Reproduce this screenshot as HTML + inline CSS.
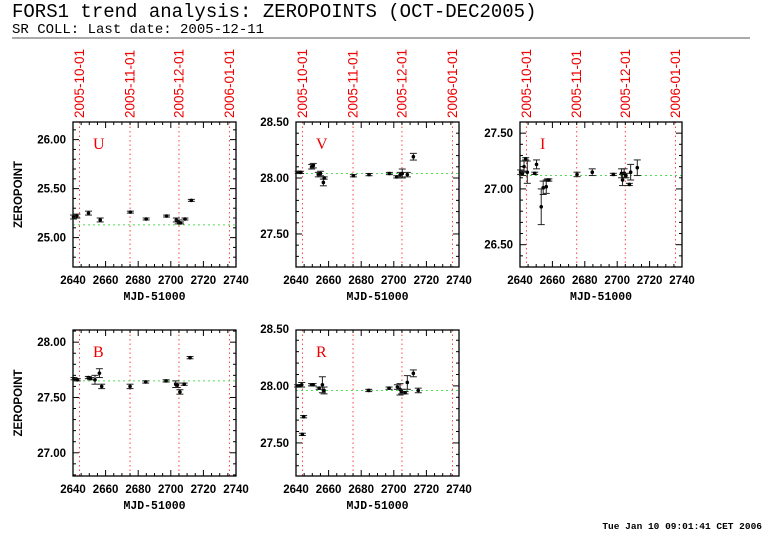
<!DOCTYPE html>
<html><head><meta charset="utf-8"><style>
body{margin:0;background:#fff;width:782px;height:542px;overflow:hidden}
</style></head><body>
<svg id="c" width="782" height="542" xmlns="http://www.w3.org/2000/svg">
<text x="12" y="17" font-family="Liberation Mono, monospace" font-size="19" fill="#000">FORS1 trend analysis: ZEROPOINTS (OCT-DEC2005)</text>
<text x="12" y="33" font-family="Liberation Mono, monospace" font-size="14" fill="#000">SR COLL: Last date: 2005-12-11</text>
<rect x="12" y="37" width="738" height="2" fill="#aaa"/>
<text x="762" y="529" text-anchor="end" font-family="Liberation Mono, monospace" font-size="9.5" font-weight="bold">Tue Jan 10 09:01:41 CET 2006</text>
</svg>
<script>
const dateLabels=["2005-10-01","2005-11-01","2005-12-01","2006-01-01"];
const dateMjd=[2644,2675,2705,2736];
const xTicks=[2640,2660,2680,2700,2720,2740];
const uMjd=[2640.3,2642.4,2649.5,2656.7,2675.2,2684.9,2697.4,2703.4,2704.6,2706,2708.7,2712.6];
const uZp=[25.21,25.22,25.25,25.18,25.26,25.19,25.22,25.18,25.16,25.15,25.19,25.38];
const uErr=[0.02,0.02,0.02,0.02,0.01,0.01,0.01,0.02,0.02,0.01,0.01,0.01];
const vMjd=[2641.4,2642.8,2649.6,2650.6,2653.7,2655,2656.8,2657.3,2675.2,2684.8,2697.3,2701.8,2703.9,2705.2,2708.3,2712];
const vZp=[28.05,28.05,28.10,28.11,28.03,28.04,27.96,28.0,28.02,28.03,28.04,28.01,28.03,28.04,28.03,28.19];
const vErr=[0.01,0.01,0.02,0.02,0.02,0.02,0.03,0.01,0.01,0.01,0.01,0.01,0.02,0.04,0.02,0.03];
const iMjd=[2640.4,2641.5,2642.5,2643.5,2644.5,2649.1,2650.2,2653.1,2654.3,2656.2,2657,2657.8,2675.2,2684.6,2697.6,2702.7,2703.3,2704.3,2705.4,2707.5,2708.3,2712.4];
const iZp=[27.15,27.14,27.20,27.27,27.15,27.14,27.22,26.84,27.01,27.02,27.08,27.08,27.13,27.15,27.13,27.14,27.08,27.14,27.12,27.04,27.15,27.19];
const iErr=[0.02,0.02,0.05,0.01,0.10,0.01,0.04,0.16,0.06,0.06,0.01,0.01,0.02,0.03,0.01,0.04,0.05,0.04,0.02,0.01,0.07,0.07];
const bMjd=[2640.6,2642.6,2649.4,2650.8,2653.5,2656.2,2657.6,2675,2684.6,2697.1,2703,2704,2705.6,2708.2,2711.8];
const bZp=[27.67,27.66,27.68,27.67,27.66,27.72,27.60,27.60,27.64,27.65,27.62,27.61,27.55,27.62,27.86];
const bErr=[0.01,0.01,0.01,0.01,0.04,0.04,0.02,0.02,0.01,0.01,0.03,0.02,0.02,0.01,0.01];
const rMjd=[2641,2642.4,2643.5,2643.9,2644.7,2649.5,2650.5,2654.2,2656.2,2657.2,2684.6,2697.1,2702.2,2703.8,2704.8,2706.9,2708.3,2712,2715];
const rZp=[28.00,28.00,28.01,27.575,27.73,28.01,28.01,27.98,28.01,27.96,27.96,27.98,27.99,27.97,27.95,27.94,28.03,28.11,27.96];
const rErr=[0.01,0.01,0.02,0.01,0.01,0.01,0.01,0.01,0.07,0.03,0.01,0.01,0.02,0.05,0.02,0.01,0.06,0.03,0.02];
const panels=[
 {n:"U",x0:73,x1:236,y0:122,y1:267,ymin:24.70,ymax:26.18,yt:[25.00,25.50,26.00],med:25.13,m:uMjd,z:uZp,e:uErr,left:true,dates:true},
 {n:"V",x0:296,x1:459,y0:122,y1:267,ymin:27.205,ymax:28.50,yt:[27.50,28.00,28.50],med:28.04,m:vMjd,z:vZp,e:vErr,left:false,dates:true},
 {n:"I",x0:520,x1:682,y0:122,y1:267,ymin:26.30,ymax:27.60,yt:[26.50,27.00,27.50],med:27.12,m:iMjd,z:iZp,e:iErr,left:false,dates:true},
 {n:"B",x0:73,x1:236,y0:330,y1:476,ymin:26.79,ymax:28.11,yt:[27.00,27.50,28.00],med:27.65,m:bMjd,z:bZp,e:bErr,left:true,dates:false},
 {n:"R",x0:296,x1:459,y0:330,y1:476,ymin:27.21,ymax:28.49,yt:[27.50,28.00,28.50],med:27.96,m:rMjd,z:rZp,e:rErr,left:false,dates:false}
];
const svg=document.getElementById('c');
const NS="http://www.w3.org/2000/svg";
function mk(t,a,p){const e=document.createElementNS(NS,t);for(const k in a)e.setAttribute(k,a[k]);(p||svg).appendChild(e);return e;}
panels.forEach(P=>{
 const g=mk('g',{});
 
 
 const X=v=>P.x0+(v-2640)/100*(P.x1-P.x0);
 const Y=v=>P.y1-(v-P.ymin)/(P.ymax-P.ymin)*(P.y1-P.y0);
 dateMjd.forEach((d,i)=>{
  const l=mk('line',{x1:X(d),x2:X(d),y1:P.y0,y2:P.y1,stroke:'#f44',"stroke-width":1,"stroke-dasharray":'1.5,3'},g);
  
  
  if(P.dates){
   const t=mk('text',{transform:`translate(${X(d)+4.5},${P.y0-4}) rotate(-90)`,"font-family":"Liberation Sans, sans-serif","font-size":13.5,fill:'#e00'},g);
   t.textContent=dateLabels[i];
   
   
  }
 });
 const ml=mk('line',{x1:P.x0,x2:P.x1,y1:Y(P.med),y2:Y(P.med),stroke:'#5d5',"stroke-width":1,"stroke-dasharray":'2,3'},g);
 
 
 for(let v=2640;v<=2740;v+=5){const L=v%20==0?6:3;
  mk('line',{x1:X(v),x2:X(v),y1:P.y1,y2:P.y1-L,stroke:'#000'},g);
  mk('line',{x1:X(v),x2:X(v),y1:P.y0,y2:P.y0+L,stroke:'#000'},g);}
 for(let k=Math.ceil(P.ymin*10);k<=Math.floor(P.ymax*10);k++){const v=k/10;const L=k%5==0?6:3;
  mk('line',{x1:P.x0,x2:P.x0+L,y1:Y(v),y2:Y(v),stroke:'#000'},g);
  mk('line',{x1:P.x1,x2:P.x1-L,y1:Y(v),y2:Y(v),stroke:'#000'},g);}
 const box=mk('rect',{x:P.x0,y:P.y0,width:P.x1-P.x0,height:P.y1-P.y0,fill:'none',stroke:'#000',"stroke-width":1.3},g);
 
 
 xTicks.forEach(v=>{const t=mk('text',{x:X(v),y:P.y1+17,"text-anchor":"middle","font-family":"Liberation Sans, sans-serif","font-size":11.5,"font-weight":"bold"},g);t.textContent=v;
  
  });
 P.yt.forEach(v=>{const t=mk('text',{x:P.x0-7,y:Y(v)+4,"text-anchor":"end","font-family":"Liberation Sans, sans-serif","font-size":11.5,"font-weight":"bold"},g);t.textContent=v.toFixed(2);
  
  });
 const xt=mk('text',{x:(P.x0+P.x1)/2,y:P.y1+33,"text-anchor":"middle","font-family":"Liberation Mono, monospace","font-size":11.5,"font-weight":"bold"},g);
 xt.textContent="MJD-51000";
 
 
 if(P.left){const yt=mk('text',{transform:`translate(22,${(P.y0+P.y1)/2}) rotate(-90)`,"text-anchor":"middle","font-family":"Liberation Sans, sans-serif","font-size":11.5,"font-weight":"bold"},g);
  yt.textContent="ZEROPOINT";
  
  }
 const ft=mk('text',{x:P.x0+20,y:P.y0+27,"font-family":"Liberation Serif, serif","font-size":16,fill:'#e00'},g);
 ft.textContent=P.n;
 
 
 P.m.forEach((d,i)=>{
  const x=X(d),y=Y(P.z[i]),ya=Y(P.z[i]+P.e[i]),yb=Y(P.z[i]-P.e[i]);
  const pg=mk('g',{stroke:'#222',"stroke-width":1},g);
  
  
  mk('line',{x1:x,x2:x,y1:ya,y2:yb},pg);
  mk('line',{x1:x-3.5,x2:x+3.5,y1:ya,y2:ya},pg);
  mk('line',{x1:x-3.5,x2:x+3.5,y1:yb,y2:yb},pg);
  mk('circle',{cx:x,cy:y,r:1.8,fill:'#000',stroke:'none'},pg);
 });
});
</script>
</body></html>
